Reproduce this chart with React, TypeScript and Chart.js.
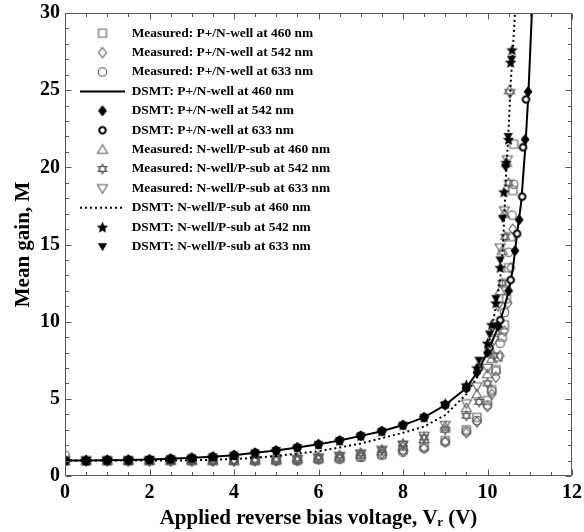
import React, { useEffect, useRef } from 'react';
import { Chart, registerables } from 'chart.js';

Chart.register(...registerables);

const FONT = "'Liberation Serif', 'Times New Roman', serif";
const GRAY = '#5c5c5c';

const LEGEND_LABELS = [
  'Measured: P+/N-well at 460 nm',
  'Measured: P+/N-well at 542 nm',
  'Measured: P+/N-well at 633 nm',
  'DSMT: P+/N-well at 460 nm',
  'DSMT: P+/N-well at 542 nm',
  'DSMT: P+/N-well at 633 nm',
  'Measured: N-well/P-sub at 460 nm',
  'Measured: N-well/P-sub at 542 nm',
  'Measured: N-well/P-sub at 633 nm',
  'DSMT: N-well/P-sub at 460 nm',
  'DSMT: N-well/P-sub at 542 nm',
  'DSMT: N-well/P-sub at 633 nm',
];

const X_TICKS = [0, 2, 4, 6, 8, 10, 12];
const Y_TICKS = [0, 5, 10, 15, 20, 25, 30];

const V_GRID = [0, 0.5, 1, 1.5, 2, 2.5, 3, 3.5, 4, 4.5, 5, 5.5, 6, 6.5, 7, 7.5, 8, 8.5, 9, 9.5];

// Measured: P+/N-well
const MEAS_PN_460_X = [...V_GRID, 9.75, 10, 10.1, 10.2, 10.25, 10.35, 10.4, 10.45, 10.5, 10.55, 10.6, 10.62];
const MEAS_PN_460_Y = [1.0, 1.0, 1.0, 1.0, 1.0, 1.0, 1.0, 1.0, 1.0, 1.0, 1.0, 1.02, 1.1, 1.15, 1.25, 1.4, 1.7, 1.9, 2.3, 3.0,
  3.8, 4.9, 5.6, 6.9, 7.7, 9.0, 9.8, 11.5, 13.5, 15.5, 18.5, 21.5];
const MEAS_PN_542_X = [...V_GRID, 9.75, 10, 10.1, 10.2, 10.3, 10.4, 10.48, 10.55, 10.6];
const MEAS_PN_542_Y = [1.0, 1.0, 1.0, 1.0, 1.0, 1.0, 1.0, 1.0, 1.0, 1.0, 1.0, 1.0, 1.1, 1.15, 1.3, 1.45, 1.6, 1.8, 2.2, 2.8,
  3.5, 4.5, 5.3, 6.4, 7.8, 9.4, 11.2, 13.5, 16.0];
const MEAS_PN_633_X = [...V_GRID, 9.75, 10, 10.1, 10.2, 10.3, 10.4, 10.45, 10.5, 10.58, 10.62];
const MEAS_PN_633_Y = [1.35, 1.0, 1.0, 1.0, 1.0, 1.0, 1.0, 1.0, 1.0, 1.0, 1.0, 1.0, 1.05, 1.1, 1.2, 1.35, 1.55, 1.8, 2.2, 2.9,
  3.6, 4.6, 5.5, 6.8, 8.6, 10.6, 12.5, 14.5, 16.9, 18.9];

// DSMT: P+/N-well
const DSMT_PN_460_X = [...V_GRID, 9.75, 10, 10.2, 10.4, 10.5, 10.6, 10.7, 10.8, 10.9, 10.97, 11.05];
const DSMT_PN_460_Y = [1.0, 1.0, 1.02, 1.04, 1.07, 1.12, 1.18, 1.25, 1.35, 1.5, 1.65, 1.85, 2.05, 2.3, 2.6, 2.9, 3.3, 3.8, 4.6, 5.7,
  6.7, 8.0, 9.3, 10.9, 12.0, 13.4, 15.7, 17.8, 21.5, 24.9, 30.0];
const DSMT_PN_542_X = [...V_GRID, 9.75, 10, 10.25, 10.5, 10.65, 10.75, 10.89, 10.96];
const DSMT_PN_542_Y = [1.0, 1.0, 1.02, 1.04, 1.07, 1.12, 1.18, 1.25, 1.35, 1.5, 1.65, 1.85, 2.05, 2.3, 2.6, 2.9, 3.3, 3.8, 4.6, 5.7,
  6.7, 8.0, 9.7, 12.0, 14.6, 16.6, 21.8, 24.9];
const DSMT_PN_633_X = [...V_GRID, 9.8, 10.05, 10.3, 10.55, 10.7, 10.82, 10.84, 10.91];
const DSMT_PN_633_Y = [1.0, 1.0, 1.02, 1.04, 1.07, 1.12, 1.18, 1.25, 1.35, 1.5, 1.65, 1.85, 2.05, 2.3, 2.6, 2.9, 3.3, 3.8, 4.6, 5.7,
  7.0, 8.3, 10.1, 12.7, 15.7, 18.1, 21.3, 24.4];

// Measured: N-well/P-sub
const MEAS_NP_460_X = [...V_GRID, 9.75, 10, 10.1, 10.2, 10.3, 10.35, 10.4, 10.45, 10.52];
const MEAS_NP_460_Y = [1.0, 1.0, 1.0, 1.0, 1.0, 1.0, 1.0, 1.0, 1.0, 1.02, 1.05, 1.1, 1.15, 1.25, 1.4, 1.6, 1.9, 2.4, 3.2, 4.4,
  5.3, 6.6, 7.6, 9.4, 12.0, 14.6, 17.0, 20.3, 25.0];
const MEAS_NP_542_X = [...V_GRID, 9.8, 10, 10.15, 10.25, 10.35, 10.42, 10.5];
const MEAS_NP_542_Y = [1.0, 1.0, 1.0, 1.0, 1.0, 1.0, 1.0, 1.0, 1.0, 1.05, 1.1, 1.15, 1.25, 1.35, 1.5, 1.7, 2.1, 2.5, 3.0, 3.9,
  4.8, 6.0, 7.8, 9.8, 12.5, 15.5, 19.0];
const MEAS_NP_633_X = [...V_GRID, 9.75, 10, 10.15, 10.25, 10.3, 10.4, 10.47, 10.53];
const MEAS_NP_633_Y = [1.0, 1.0, 1.0, 1.0, 1.0, 1.0, 1.0, 1.0, 1.0, 1.02, 1.05, 1.1, 1.2, 1.3, 1.45, 1.7, 2.0, 2.6, 3.3, 4.7,
  5.8, 7.0, 8.8, 11.0, 14.8, 17.2, 20.5, 24.8];

// DSMT: N-well/P-sub
const DSMT_NP_460_X = [...V_GRID, 9.75, 10, 10.1, 10.2, 10.3, 10.36, 10.4, 10.44, 10.5, 10.55, 10.6, 10.65];
const DSMT_NP_460_Y = [1.0, 1.0, 1.0, 1.0, 1.0, 1.0, 1.02, 1.05, 1.1, 1.18, 1.3, 1.45, 1.6, 1.85, 2.1, 2.45, 2.8, 3.2, 3.95, 5.3,
  6.4, 8.3, 9.6, 11.0, 12.8, 14.6, 17.0, 19.5, 22.5, 25.5, 27.6, 30.0];
const DSMT_NP_542_X = [...V_GRID, 9.75, 10, 10.1, 10.2, 10.3, 10.39, 10.44, 10.5, 10.55, 10.58];
const DSMT_NP_542_Y = [1.0, 1.0, 1.02, 1.04, 1.07, 1.12, 1.18, 1.25, 1.35, 1.5, 1.65, 1.85, 2.05, 2.3, 2.6, 2.9, 3.3, 3.8, 4.7, 5.9,
  7.0, 8.6, 9.8, 11.2, 13.5, 18.4, 20.3, 21.8, 26.8, 27.6];
const DSMT_NP_633_X = [...V_GRID, 9.8, 10.05, 10.2, 10.3, 10.36, 10.43, 10.49, 10.57];
const DSMT_NP_633_Y = [1.0, 1.0, 1.02, 1.04, 1.07, 1.12, 1.18, 1.25, 1.35, 1.5, 1.65, 1.85, 2.05, 2.3, 2.6, 2.9, 3.3, 3.8, 4.6, 5.7,
  7.5, 9.2, 11.5, 14.0, 16.7, 20.0, 22.0, 27.0];

type Shape = 'square' | 'diamond' | 'circle' | 'triUp' | 'triDown' | 'hexagram' | 'star5';

function makeMarker(shape: Shape, size: number, stroke: string, fill: string | null, lw: number) {
  const pad = Math.ceil(lw) + 1;
  const d = Math.ceil(size + pad * 2);
  const c = document.createElement('canvas');
  c.width = d;
  c.height = d;
  const ctx = c.getContext('2d') as CanvasRenderingContext2D;
  const cx = d / 2;
  const cy = d / 2;
  const r = size / 2;
  ctx.beginPath();
  if (shape === 'square') {
    ctx.rect(cx - r, cy - r, size, size);
  } else if (shape === 'diamond') {
    ctx.moveTo(cx, cy - r);
    ctx.lineTo(cx + r * 0.8, cy);
    ctx.lineTo(cx, cy + r);
    ctx.lineTo(cx - r * 0.8, cy);
    ctx.closePath();
  } else if (shape === 'circle') {
    ctx.arc(cx, cy, r, 0, Math.PI * 2);
  } else if (shape === 'triUp') {
    ctx.moveTo(cx, cy - r);
    ctx.lineTo(cx + r, cy + r * 0.75);
    ctx.lineTo(cx - r, cy + r * 0.75);
    ctx.closePath();
  } else if (shape === 'triDown') {
    ctx.moveTo(cx, cy + r);
    ctx.lineTo(cx + r, cy - r * 0.75);
    ctx.lineTo(cx - r, cy - r * 0.75);
    ctx.closePath();
  } else if (shape === 'hexagram') {
    ctx.moveTo(cx, cy - r);
    ctx.lineTo(cx + r * 0.87, cy + r * 0.5);
    ctx.lineTo(cx - r * 0.87, cy + r * 0.5);
    ctx.closePath();
    ctx.moveTo(cx, cy + r);
    ctx.lineTo(cx + r * 0.87, cy - r * 0.5);
    ctx.lineTo(cx - r * 0.87, cy - r * 0.5);
    ctx.closePath();
  } else if (shape === 'star5') {
    for (let i = 0; i < 10; i++) {
      const ang = -Math.PI / 2 + (i * Math.PI) / 5;
      const rr = i % 2 === 0 ? r : r * 0.45;
      const px = cx + Math.cos(ang) * rr;
      const py = cy + Math.sin(ang) * rr + r * 0.08;
      if (i === 0) ctx.moveTo(px, py);
      else ctx.lineTo(px, py);
    }
    ctx.closePath();
  }
  if (fill) {
    ctx.fillStyle = fill;
    ctx.fill();
  }
  if (lw > 0) {
    ctx.lineWidth = lw;
    ctx.strokeStyle = stroke;
    ctx.lineJoin = 'miter';
    ctx.stroke();
  }
  return c;
}

const frameTicks = {
  id: 'frameTicks',
  afterDatasetsDraw(chart: any) {
    const { ctx, chartArea: a, scales } = chart;
    const xs = scales.x;
    const ys = scales.y;
    ctx.save();
    ctx.strokeStyle = '#5a5a5a';
    ctx.lineWidth = 1;
    const L = Math.round(a.left) + 0.5;
    const R = Math.round(a.right) - 0.5;
    const T = Math.round(a.top) + 0.5;
    const B = Math.round(a.bottom) - 0.5;
    ctx.beginPath();
    ctx.rect(L, T, R - L, B - T);
    ctx.stroke();
    ctx.beginPath();
    for (let v = 0; v <= 12.0001; v += 0.5) {
      const px = Math.round(xs.getPixelForValue(v)) + 0.5;
      const major = Math.abs(v / 2 - Math.round(v / 2)) < 1e-6;
      const len = major ? 6 : 3.5;
      ctx.moveTo(px, B);
      ctx.lineTo(px, B - len);
      ctx.moveTo(px, T);
      ctx.lineTo(px, T + len);
    }
    for (let v = 0; v <= 30.0001; v += 1) {
      const py = Math.round(ys.getPixelForValue(v)) + 0.5;
      const major = v % 5 === 0;
      const len = major ? 6 : 3.5;
      ctx.moveTo(L, py);
      ctx.lineTo(L + len, py);
      ctx.moveTo(R, py);
      ctx.lineTo(R - len, py);
    }
    ctx.stroke();
    ctx.restore();
  },
};

const legendPlace = {
  id: 'legendPlace',
  afterLayout(chart: any) {
    const lg = chart.legend;
    if (!lg) return;
    const a = chart.chartArea;
    lg.left = a.left + 9.0;
    lg.top = a.top + 7.5;
    lg.bottom = a.bottom;
    lg.right = a.right;
  },
};

function pts(xs: number[], ys: number[]) {
  return xs.map((x, i) => ({ x, y: ys[i] }));
}

export default function App() {
  const ref = useRef<HTMLCanvasElement | null>(null);

  useEffect(() => {
    document.body.style.margin = '0';
    const canvas = ref.current;
    if (!canvas) return;

    const mSquare = makeMarker('square', 8, GRAY, null, 1.1);
    const mDiamond = makeMarker('diamond', 10, GRAY, null, 1.1);
    const mCircle = makeMarker('circle', 8.5, GRAY, null, 1.1);
    const mTriUp = makeMarker('triUp', 10, GRAY, null, 1.1);
    const mHex = makeMarker('hexagram', 10, GRAY, null, 1.1);
    const mTriDown = makeMarker('triDown', 10, GRAY, null, 1.1);
    const dDiamond = makeMarker('diamond', 10, '#000', '#000', 1);
    const dCircle = makeMarker('circle', 6.5, '#000', '#fff', 2);
    const dStar = makeMarker('star5', 11, '#000', '#000', 0.5);
    const dTriDown = makeMarker('triDown', 8.5, '#000', '#000', 0.5);

    const styles: any[] = [mSquare, mDiamond, mCircle, 'line', dDiamond, dCircle, mTriUp, mHex, mTriDown, 'line', dStar, dTriDown];
    const dashes: number[][] = [[], [], [], [], [], [], [], [], [], [2, 3], [], []];

    const markerSet = (label: string, xs: number[], ys: number[], style: any, order: number) => ({
      label,
      data: pts(xs, ys),
      showLine: false,
      pointStyle: style,
      pointRadius: 5,
      pointHoverRadius: 5,
      order,
    });
    const lineSet = (label: string, xs: number[], ys: number[], dash: number[], order: number) => ({
      label,
      data: pts(xs, ys),
      showLine: true,
      borderColor: '#000',
      borderWidth: 2,
      borderDash: dash,
      pointRadius: 0,
      tension: 0,
      fill: false,
      order,
    });

    const datasets: any[] = [
      markerSet(LEGEND_LABELS[0], MEAS_PN_460_X, MEAS_PN_460_Y, mSquare, 5),
      markerSet(LEGEND_LABELS[1], MEAS_PN_542_X, MEAS_PN_542_Y, mDiamond, 5),
      markerSet(LEGEND_LABELS[2], MEAS_PN_633_X, MEAS_PN_633_Y, mCircle, 5),
      lineSet(LEGEND_LABELS[3], DSMT_PN_460_X, DSMT_PN_460_Y, [], 3),
      markerSet(LEGEND_LABELS[4], DSMT_PN_542_X, DSMT_PN_542_Y, dDiamond, 1),
      markerSet(LEGEND_LABELS[5], DSMT_PN_633_X, DSMT_PN_633_Y, dCircle, 1),
      markerSet(LEGEND_LABELS[6], MEAS_NP_460_X, MEAS_NP_460_Y, mTriUp, 4),
      markerSet(LEGEND_LABELS[7], MEAS_NP_542_X, MEAS_NP_542_Y, mHex, 4),
      markerSet(LEGEND_LABELS[8], MEAS_NP_633_X, MEAS_NP_633_Y, mTriDown, 4),
      lineSet(LEGEND_LABELS[9], DSMT_NP_460_X, DSMT_NP_460_Y, [2, 3], 3),
      markerSet(LEGEND_LABELS[10], DSMT_NP_542_X, DSMT_NP_542_Y, dStar, 0),
      markerSet(LEGEND_LABELS[11], DSMT_NP_633_X, DSMT_NP_633_Y, dTriDown, 0),
    ];

    const tickFont = { family: FONT, size: 20, weight: 'bold' as const };
    const titleFont = { family: FONT, size: 21, weight: 'bold' as const };

    const chart = new Chart(canvas, {
      type: 'scatter',
      data: { datasets },
      plugins: [frameTicks, legendPlace],
      options: {
        animation: false,
        responsive: false,
        maintainAspectRatio: false,
        events: [],
        layout: { padding: { top: 13, right: 12, left: 0, bottom: 0 } },
        plugins: {
          tooltip: { enabled: false },
          legend: {
            display: true,
            position: 'chartArea',
            align: 'start',
            labels: {
              usePointStyle: true,
              pointStyleWidth: 45,
              boxHeight: 13.4,
              padding: 6.0,
              color: '#000',
              font: { family: FONT, size: 13.4, weight: 'bold' },
              generateLabels: () =>
                LEGEND_LABELS.map((text, i) => ({
                  text,
                  fillStyle: 'rgba(0,0,0,0)',
                  strokeStyle: '#000',
                  lineWidth: styles[i] === 'line' ? 2 : 0,
                  lineDash: dashes[i],
                  lineCap: 'butt',
                  pointStyle: styles[i],
                  hidden: false,
                  datasetIndex: i,
                  fontColor: '#000',
                })),
            },
          },
        },
        scales: {
          x: {
            type: 'linear',
            position: 'bottom',
            min: 0,
            max: 12,
            afterBuildTicks: (s: any) => {
              s.ticks = X_TICKS.map((v) => ({ value: v }));
            },
            afterFit: (s: any) => {
              s.height = 56;
              s.paddingLeft = 0;
              s.paddingRight = 0;
            },
            ticks: { color: '#000', font: tickFont, padding: 5, maxRotation: 0, autoSkip: false },
            grid: { display: false, drawTicks: false },
            border: { display: false },
            title: {
              display: true,
              text: 'Applied reverse bias voltage, Vᵣ (V)',
              color: '#000',
              font: titleFont,
              padding: { top: 0, bottom: 1 },
            },
          },
          y: {
            type: 'linear',
            position: 'left',
            min: 0,
            max: 30,
            afterBuildTicks: (s: any) => {
              s.ticks = Y_TICKS.map((v) => ({ value: v }));
            },
            afterFit: (s: any) => {
              s.width = 65;
              s.paddingTop = 0;
              s.paddingBottom = 0;
            },
            ticks: { color: '#000', font: tickFont, padding: 5, autoSkip: false },
            grid: { display: false, drawTicks: false },
            border: { display: false },
            title: {
              display: true,
              text: 'Mean gain, M',
              color: '#000',
              font: titleFont,
              padding: { top: 11, bottom: 0 },
            },
          },
        },
      } as any,
    });

    return () => chart.destroy();
  }, []);

  return (
    <div style={{ width: 584, height: 532 }}>
      <canvas ref={ref} width={584} height={532} style={{ display: 'block' }} />
    </div>
  );
}
